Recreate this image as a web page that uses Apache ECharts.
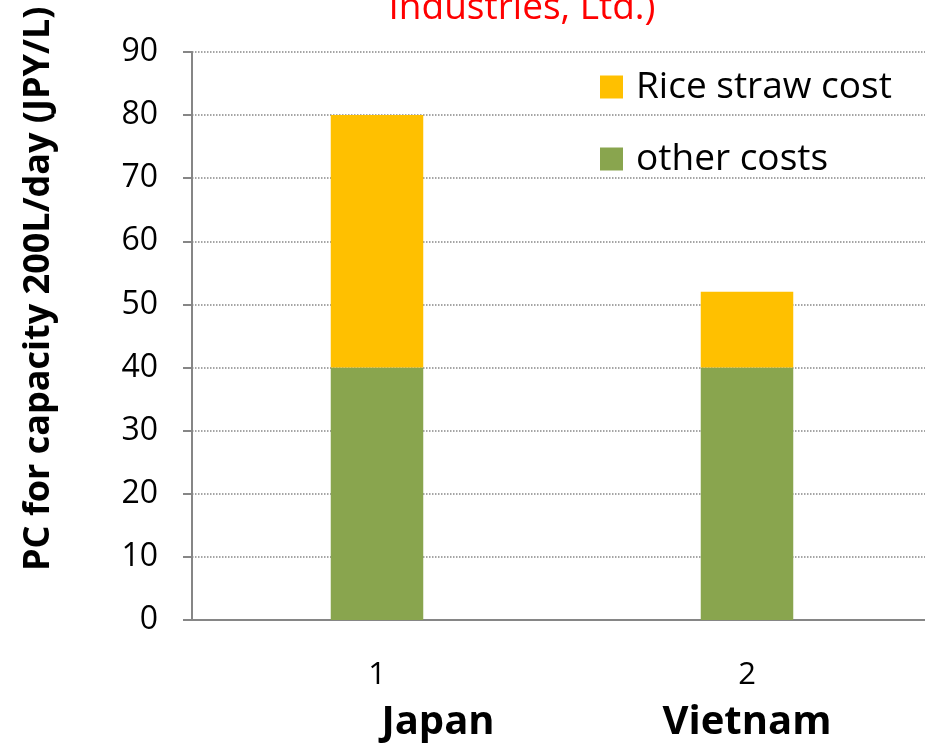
<!DOCTYPE html>
<html>
<head>
<meta charset="utf-8">
<script src="https://cdn.jsdelivr.net/npm/echarts@6/dist/echarts.min.js"></script>
<style>
  html, body { margin: 0; padding: 0; background: #fff; overflow: hidden; }
  /* plot area runs a few pixels past the right edge of the page */
  #chart { width: 932px; height: 743px; }
</style>
</head>
<body>
<div id="chart"></div>
<script>
// Production cost per litre, split into rice straw cost and other costs
const categories = ['1', '2'];
const countries = ['Japan', 'Vietnam'];
const otherCosts = [40, 40];
const riceStrawCost = [40, 12];
const yTicks = { min: 0, max: 90, interval: 10 };

const FONT = '"Open Sans", "Noto Sans", sans-serif';

const chart = echarts.init(document.getElementById('chart'), null, { renderer: 'canvas', width: 932, height: 743 });

chart.setOption({
  animation: false,
  backgroundColor: '#ffffff',
  grid: { left: 192, top: 52, right: 0, bottom: 121, containLabel: false },
  legend: {
    orient: 'vertical',
    left: 595,
    top: 62,
    itemWidth: 23,
    itemHeight: 23,
    itemGap: 32,
    icon: 'rect',
    data: ['Rice straw cost', 'other costs'],
    textStyle: { fontFamily: FONT, fontSize: 37, lineHeight: 40, color: '#000', padding: [0, 0, 0, 8] }
  },
  xAxis: {
    type: 'category',
    data: categories,
    axisLine: { lineStyle: { color: '#868686', width: 2 } },
    axisTick: { show: false },
    axisLabel: {
      margin: 32,
      interval: 0,
      formatter: (v, i) => '{n|' + v + '}\n{' + (i === 0 ? 'j' : 'v') + '|' + countries[i] + '}',
      rich: {
        n: { fontFamily: FONT, fontSize: 31, color: '#000', lineHeight: 46 },
        j: { fontFamily: FONT, fontSize: 40, fontWeight: 'bold', color: '#000', lineHeight: 50, padding: [0, 0, 0, 122] },
        v: { fontFamily: FONT, fontSize: 40, fontWeight: 'bold', color: '#000', lineHeight: 50 }
      }
    }
  },
  yAxis: {
    type: 'value',
    min: yTicks.min,
    max: yTicks.max,
    interval: yTicks.interval,
    axisLine: { show: true, lineStyle: { color: '#868686', width: 2 } },
    axisTick: { show: true, length: 9, lineStyle: { color: '#868686', width: 2 } },
    splitLine: { lineStyle: { color: '#888', type: 'dotted', width: 1.5 } },
    axisLabel: { fontFamily: FONT, fontSize: 32, color: '#000', margin: 34 }
  },
  series: [
    {
      name: 'other costs',
      type: 'bar',
      stack: 'cost',
      barWidth: '25%',
      itemStyle: { color: '#89A54E' },
      data: otherCosts
    },
    {
      name: 'Rice straw cost',
      type: 'bar',
      stack: 'cost',
      barWidth: '25%',
      itemStyle: { color: '#FFC000' },
      data: riceStrawCost
    }
  ],
  graphic: [
    {
      type: 'text',
      x: 39,
      y: 571,
      rotation: Math.PI / 2,
      style: {
        text: 'PC for capacity 200L/day (JPY/L)',
        fontFamily: FONT,
        fontSize: 36,
        fontWeight: 'bold',
        fill: '#000',
        textAlign: 'left',
        textVerticalAlign: 'middle'
      }
    },
    {
      type: 'text',
      x: 522,
      y: 27,
      style: {
        text: 'Industries, Ltd.)',
        fontFamily: FONT,
        fontSize: 37,
        fill: '#ff0000',
        textAlign: 'center',
        textVerticalAlign: 'bottom'
      }
    }
  ]
});
</script>
</body>
</html>
